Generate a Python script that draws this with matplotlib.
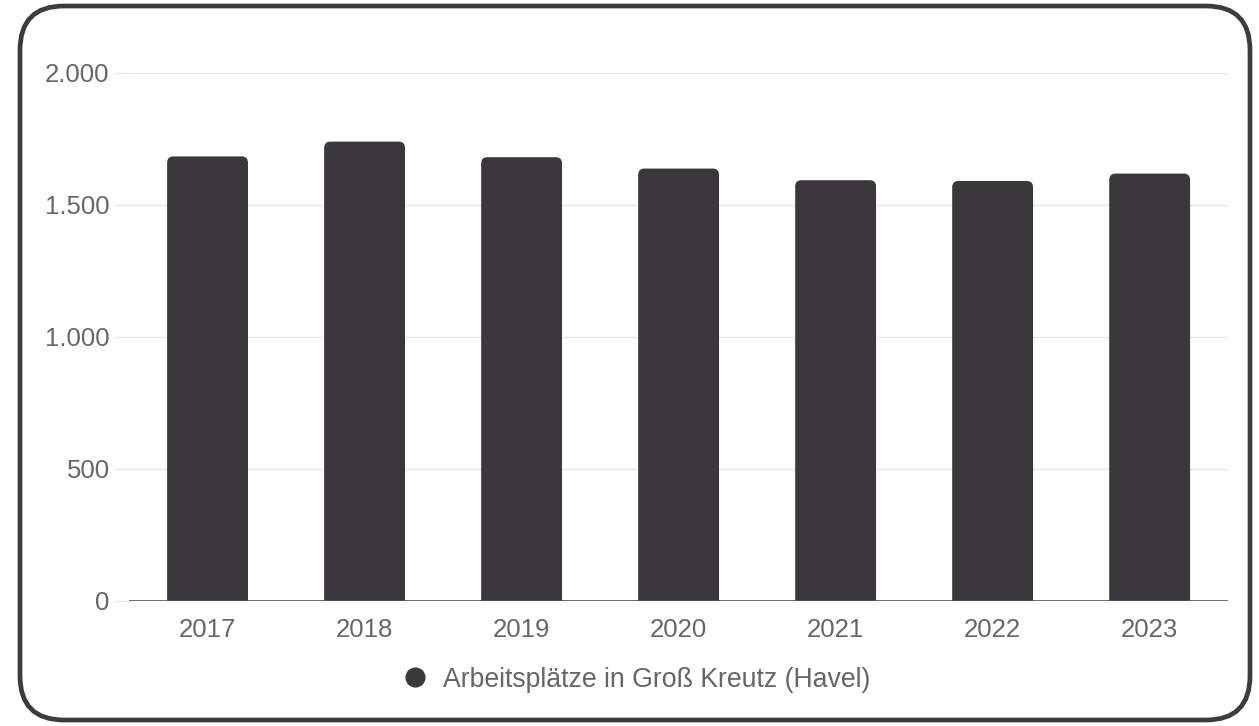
import matplotlib
matplotlib.use('Agg')
import matplotlib.pyplot as plt
from matplotlib.patches import FancyBboxPatch
from matplotlib.lines import Line2D
from matplotlib.ticker import FuncFormatter

plt.rcParams['font.family'] = ['Liberation Sans', 'DejaVu Sans']

years = ['2017', '2018', '2019', '2020', '2021', '2022', '2023']
jobs = [1683, 1739, 1680, 1637, 1593, 1590, 1618]
y_ticks = [0, 500, 1000, 1500, 2000]
series_label = 'Arbeitsplätze in Groß Kreutz (Havel)'

bar_color = '#3a383b'
text_color = '#666666'
grid_color = '#e6e6e6'

fig = plt.figure(figsize=(12.59, 7.26), dpi=100)
ax = fig.add_axes([0.1025, 0.1722, 0.873, 0.7277])

x = range(len(years))
bars = ax.bar(x, jobs, width=0.515, color=bar_color)

# runde obere Ecken: Balken als abgerundete Box, untere Ecken unter der Nulllinie abgeschnitten
r_x = 0.04
r_y = 24
for b in bars:
    bx, bw, bh = b.get_x(), b.get_width(), b.get_height()
    b.set_visible(False)
    ax.add_patch(FancyBboxPatch((bx + r_x, -bh + r_y), bw - 2 * r_x, 2 * bh - 2 * r_y,
                                boxstyle=f'round,pad={r_x}', mutation_aspect=r_y / r_x,
                                fc=bar_color, ec='none', zorder=2))

ax.set_xlim(-0.5, len(years) - 0.5)
ax.set_ylim(0, 2000)
ax.set_xticks(list(x))
ax.set_xticklabels(years)
ax.set_yticks(y_ticks)
ax.yaxis.set_major_formatter(FuncFormatter(lambda v, p: f'{v:,.0f}'.replace(',', '.')))

for s in ax.spines.values():
    s.set_visible(False)
ax.grid(axis='y', color=grid_color, linewidth=1, zorder=0)
ax.set_axisbelow(True)
ax.axhline(0, color='#4d5461', linewidth=1.2, zorder=3)

ax.tick_params(axis='y', length=10, width=1, color=grid_color, pad=4,
               labelsize=18.5, labelcolor=text_color)
ax.yaxis.get_major_ticks()[0].tick1line.set_color('#4d5461')
ax.tick_params(axis='x', length=0, pad=12, labelsize=18.5, labelcolor=text_color)

handle = Line2D([], [], marker='o', linestyle='none', markersize=13.5,
                markerfacecolor=bar_color, markeredgecolor=bar_color)
fig.legend([handle], [series_label], loc='center', bbox_to_anchor=(0.505, 0.064),
           frameon=False, fontsize=19.2, labelcolor=text_color,
           handletextpad=0.55, handlelength=1.0)

# Rahmen
fig.patches.append(FancyBboxPatch((20 / 1259, 6 / 726), 1230 / 1259, 714 / 726,
                                  boxstyle='round,pad=0,rounding_size=0.035',
                                  mutation_aspect=1259 / 726,
                                  transform=fig.transFigure, fc='none',
                                  ec='#3c3c3c', lw=3.4, zorder=10))

fig.savefig('out.png', dpi=100, facecolor='white')
